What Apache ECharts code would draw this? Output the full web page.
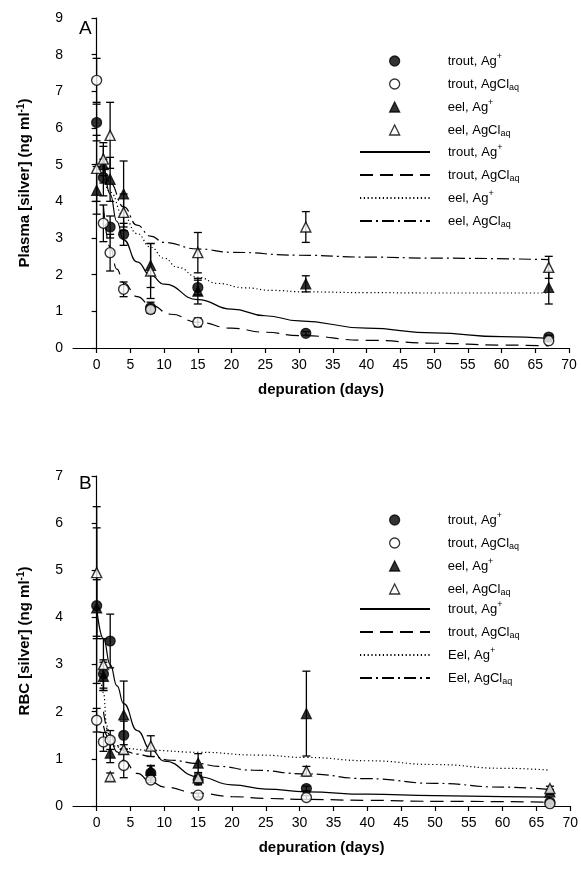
<!DOCTYPE html>
<html><head><meta charset="utf-8">
<script src="https://cdn.jsdelivr.net/npm/echarts@6/dist/echarts.min.js"></script>
<style>html,body{margin:0;padding:0;background:#fff}#c{width:581px;height:875px}</style>
</head><body><div id="c"></div>
<script>
// ---------- data ----------
const days = [0, 1, 2, 4, 8, 15, 31, 67];
const xTickValues = [0, 5, 10, 15, 20, 25, 30, 35, 40, 45, 50, 55, 60, 65, 70];

// Panel A: plasma
const aTroutAg = [6.15, 4.65, 3.3, 3.1, 1.1, 1.65, 0.4, 0.3];
const aTroutAgErr = [0.5, 0.5, 0.3, 0.3, 0.15, 0.2, 0.05, 0.05];
const aTroutAgCl = [7.3, 3.4, 2.6, 1.6, 1.05, 0.7, null, 0.2];
const aTroutAgClErr = [0.6, 0.5, 0.5, 0.2, 0.1, 0.12, null, 0.03];
const aEelAg = [4.3, 5.0, 4.6, 4.2, 2.25, 1.55, 1.75, 1.65];
const aEelAgErr = [0.65, 0.5, 0.6, 0.9, 0.6, 0.35, 0.22, 0.45];
const aEelAgCl = [4.9, 5.15, 5.8, 3.7, 2.1, 2.6, 3.3, 2.2];
const aEelAgClErr = [0.9, 0.45, 0.9, 0.5, 0.75, 0.55, 0.42, 0.3];

const aFitTroutAg = [[1,5.3],[2,4.2],[3,3.45],[4,2.95],[6,2.35],[8,1.98],[10,1.74],[15,1.32],[20,1.06],[25,0.88],[30,0.74],[40,0.54],[50,0.41],[60,0.31],[67,0.26]];
const aFitTroutAgCl = [[1,3.9],[2,2.75],[3,2.15],[4,1.78],[6,1.4],[8,1.17],[11,0.92],[15,0.7],[20,0.54],[25,0.43],[30,0.34],[40,0.21],[50,0.13],[60,0.08],[67,0.06]];
const aFitEelAg = [[1,4.7],[2,4.25],[4,3.6],[6,3.12],[8,2.75],[10,2.45],[12,2.2],[15,1.93],[18,1.76],[22,1.64],[26,1.57],[31,1.53],[40,1.51],[50,1.5],[67,1.5]];
const aFitEelAgCl = [[1,5.0],[2,4.5],[4,3.85],[6,3.35],[8,3.05],[10,2.88],[15,2.7],[20,2.61],[30,2.53],[40,2.48],[50,2.45],[67,2.41]];

// Panel B: RBC
const bTroutAg = [4.25, 2.8, 3.5, 1.5, 0.7, 0.55, 0.37, 0.08];
const bTroutAgErr = [1.65, 0.3, 0.57, 0.3, 0.15, 0.1, 0.05, 0.03];
const bTroutAgCl = [1.82, 1.36, 1.4, 0.86, 0.55, 0.23, 0.18, 0.05];
const bTroutAgClErr = [0.25, 0.2, 0.2, 0.26, 0.05, 0.04, 0.04, 0.02];
const bEelAg = [4.2, 2.75, 1.12, 1.93, 0.76, 0.91, 1.96, 0.3];
const bEelAgErr = [0.6, 0.3, 0.2, 0.72, 0.1, 0.2, 0.9, 0.05];
const bEelAgCl = [4.95, 3.0, 0.62, 1.2, 1.27, 0.6, 0.74, 0.37];
const bEelAgClErr = [1.4, 0.55, 0.08, 0.1, 0.22, 0.08, 0.1, 0.05];

const bFitTroutAg = [[0,4.2],[1,3.55],[2,3.0],[3,2.55],[4,2.17],[6,1.6],[8,1.2],[10,0.95],[15,0.62],[20,0.45],[25,0.36],[31,0.3],[40,0.25],[50,0.22],[60,0.2],[67,0.19]];
const bFitTroutAgCl = [[1,1.7],[2,1.4],[3,1.15],[4,0.96],[6,0.69],[8,0.51],[10,0.4],[15,0.27],[20,0.2],[25,0.16],[31,0.14],[40,0.12],[50,0.1],[67,0.08]];
const bFitEelAg = [[0.5,2.9],[1,2.4],[1.5,1.7],[2,1.35],[3,1.25],[4,1.22],[8,1.18],[15,1.14],[24,1.08],[31,1.03],[40,0.96],[50,0.88],[60,0.8],[67,0.76]];
const bFitEelAgCl = [[1,2.0],[2,1.5],[3,1.28],[4,1.17],[6,1.1],[8,1.05],[11,0.97],[15,0.9],[18,0.84],[23,0.76],[31,0.68],[40,0.58],[50,0.48],[60,0.4],[67,0.35]];

const markerLabels = ['trout, Ag{sup|+}','trout, AgCl{sub|aq}','eel, Ag{sup|+}','eel, AgCl{sub|aq}'];
const lineLabelsA = ['trout, Ag{sup|+}','trout, AgCl{sub|aq}','eel, Ag{sup|+}','eel, AgCl{sub|aq}'];
const lineLabelsB = ['trout, Ag{sup|+}','trout, AgCl{sub|aq}','Eel, Ag{sup|+}','Eel, AgCl{sub|aq}'];

// ---------- build ----------
const FONT = '"Liberation Sans", Arial, sans-serif';
const pts = (v) => days.map((d, i) => v[i] == null ? null : [d, v[i]]).filter(Boolean);
const errs = (v, e) => days.map((d, i) => v[i] == null ? null : [d, v[i], e[i]]).filter(Boolean);

function errRender(params, api) {
  const x = api.value(0), y = api.value(1), e = api.value(2);
  const t = api.coord([x, y + e]), b = api.coord([x, y - e]);
  const w = 4, st = { stroke: '#000', lineWidth: 1.3 };
  return { type: 'group', children: [
    { type: 'line', shape: { x1: t[0], y1: t[1], x2: b[0], y2: b[1] }, style: st },
    { type: 'line', shape: { x1: t[0] - w, y1: t[1], x2: t[0] + w, y2: t[1] }, style: st },
    { type: 'line', shape: { x1: b[0] - w, y1: b[1], x2: b[0] + w, y2: b[1] }, style: st }
  ]};
}

const markerStyles = [
  { symbol: 'circle', itemStyle: { color: '#000', borderColor: '#000', borderWidth: 1.2 } },
  { symbol: 'circle', itemStyle: { color: '#fff', borderColor: '#000', borderWidth: 1.4 } },
  { symbol: 'triangle', itemStyle: { color: '#000', borderColor: '#000', borderWidth: 1.2 } },
  { symbol: 'triangle', itemStyle: { color: '#fff', borderColor: '#000', borderWidth: 1.4 } }
];
const lineTypes = ['solid', [13, 7], [1.2, 2.6], [12, 4, 2, 4]];

function panelSeries(p, idx, vals, errsArr, fits) {
  const s = [];
  vals.forEach((v, k) => {
    s.push({ type: 'custom', name: p + 'err' + k, xAxisIndex: idx, yAxisIndex: idx,
      renderItem: errRender, data: errs(v, errsArr[k]), encode: { x: 0, y: 1 }, z: 2, silent: true });
  });
  fits.forEach((f, k) => {
    s.push({ type: 'line', name: p + 'fit' + k, xAxisIndex: idx, yAxisIndex: idx, data: f,
      smooth: true, smoothMonotone: 'x', symbol: 'none', showSymbol: false, z: 3, silent: true,
      lineStyle: { color: '#000', width: 1.2, type: lineTypes[k] }, itemStyle: { color: 'rgba(0,0,0,0)' } });
  });
  vals.forEach((v, k) => {
    s.push(Object.assign({ type: 'scatter', name: p + 'pts' + k, xAxisIndex: idx, yAxisIndex: idx,
      data: pts(v), symbolSize: 10, z: 4, silent: true }, markerStyles[k]));
  });
  return s;
}

const series = [].concat(
  panelSeries('A', 0, [aTroutAg, aTroutAgCl, aEelAg, aEelAgCl], [aTroutAgErr, aTroutAgClErr, aEelAgErr, aEelAgClErr],
    [aFitTroutAg, aFitTroutAgCl, aFitEelAg, aFitEelAgCl]),
  panelSeries('B', 1, [bTroutAg, bTroutAgCl, bEelAg, bEelAgCl], [bTroutAgErr, bTroutAgClErr, bEelAgErr, bEelAgClErr],
    [bFitTroutAg, bFitTroutAgCl, bFitEelAg, bFitEelAgCl])
);

function richLegend(sp) {
  return {
    sp: { width: sp },
    sup: { fontSize: 9, verticalAlign: 'top', lineHeight: 9, fontFamily: FONT, color: '#000' },
    sub: { fontSize: 9, verticalAlign: 'bottom', lineHeight: 9, fontFamily: FONT, color: '#000' }
  };
}
function markerLegend(p, top) {
  const names = [0,1,2,3].map(k => p + 'pts' + k);
  return {
    orient: 'vertical', left: 389, top: top, padding: 0, itemWidth: 10, itemHeight: 10, itemGap: 6,
    selectedMode: false, data: names,
    itemStyle: { borderWidth: 1.3, borderColor: '#000' },
    formatter: (n) => '{sp|}' + markerLabels[names.indexOf(n)],
    textStyle: { fontFamily: FONT, fontSize: 13, color: '#000', lineHeight: 17, rich: richLegend(43) }
  };
}
function lineLegend(p, labels, top) {
  const names = [0,1,2,3].map(k => p + 'fit' + k);
  return {
    orient: 'vertical', left: 359, top: top, padding: 0, itemWidth: 70, itemHeight: 10, itemGap: 6,
    selectedMode: false, data: names,
    itemStyle: { borderWidth: 0, color: 'rgba(0,0,0,0)' },
    formatter: (n) => '{sp|}' + labels[names.indexOf(n)],
    textStyle: { fontFamily: FONT, fontSize: 13, color: '#000', lineHeight: 17, rich: richLegend(13) }
  };
}

function xAx(idx) {
  return {
    type: 'value', gridIndex: idx, min: -3.5, max: 70,
    name: 'depuration (days)', nameLocation: 'middle', nameGap: 34,
    nameTextStyle: { fontFamily: FONT, fontSize: 15, fontWeight: 'bold', color: '#000' },
    axisLine: { show: true, onZero: false, lineStyle: { color: '#000', width: 1.2 } },
    axisTick: { show: true, length: 5, lineStyle: { color: '#000', width: 1.2 }, customValues: xTickValues },
    axisLabel: { fontFamily: FONT, fontSize: 14, color: '#000', margin: 10, customValues: xTickValues },
    splitLine: { show: false }
  };
}
function yAx(idx, max, name) {
  return {
    type: 'value', gridIndex: idx, min: 0, max: max, interval: 1,
    name: name, nameLocation: 'middle', nameGap: 39, nameRotate: 90,
    nameTextStyle: { fontFamily: FONT, fontSize: 15, fontWeight: 'bold', color: '#000', lineHeight: 18,
      rich: { sup: { fontSize: 10, fontWeight: 'bold', verticalAlign: 'top', lineHeight: 10, fontFamily: FONT, color: '#000' } } },
    axisLine: { show: true, lineStyle: { color: '#000', width: 1.2 } },
    axisTick: { show: true, length: 5, lineStyle: { color: '#000', width: 1.2 } },
    axisLabel: { fontFamily: FONT, fontSize: 14, color: '#000', margin: 10 },
    splitLine: { show: false }
  };
}

const chart = echarts.init(document.getElementById('c'), null, { renderer: 'canvas' });
chart.setOption({
  animation: false,
  backgroundColor: '#fff',
  grid: [
    { left: 73, top: 18, width: 496, height: 330 },
    { left: 73, top: 476, width: 498, height: 330 }
  ],
  xAxis: [xAx(0), xAx(1)],
  yAxis: [yAx(0, 9, 'Plasma [silver] (ng ml{sup|-1})'), yAx(1, 7, 'RBC [silver] (ng ml{sup|-1})')],
  legend: [markerLegend('A', 52.5), lineLegend('A', lineLabelsA, 143.5), markerLegend('B', 511.5), lineLegend('B', lineLabelsB, 600.5)],
  graphic: [
    { type: 'text', left: 79, top: 19, style: { text: 'A', fontFamily: FONT, fontSize: 19, fill: '#000' } },
    { type: 'text', left: 79, top: 474, style: { text: 'B', fontFamily: FONT, fontSize: 19, fill: '#000' } }
  ],
  series: series
});
</script>
</body></html>
